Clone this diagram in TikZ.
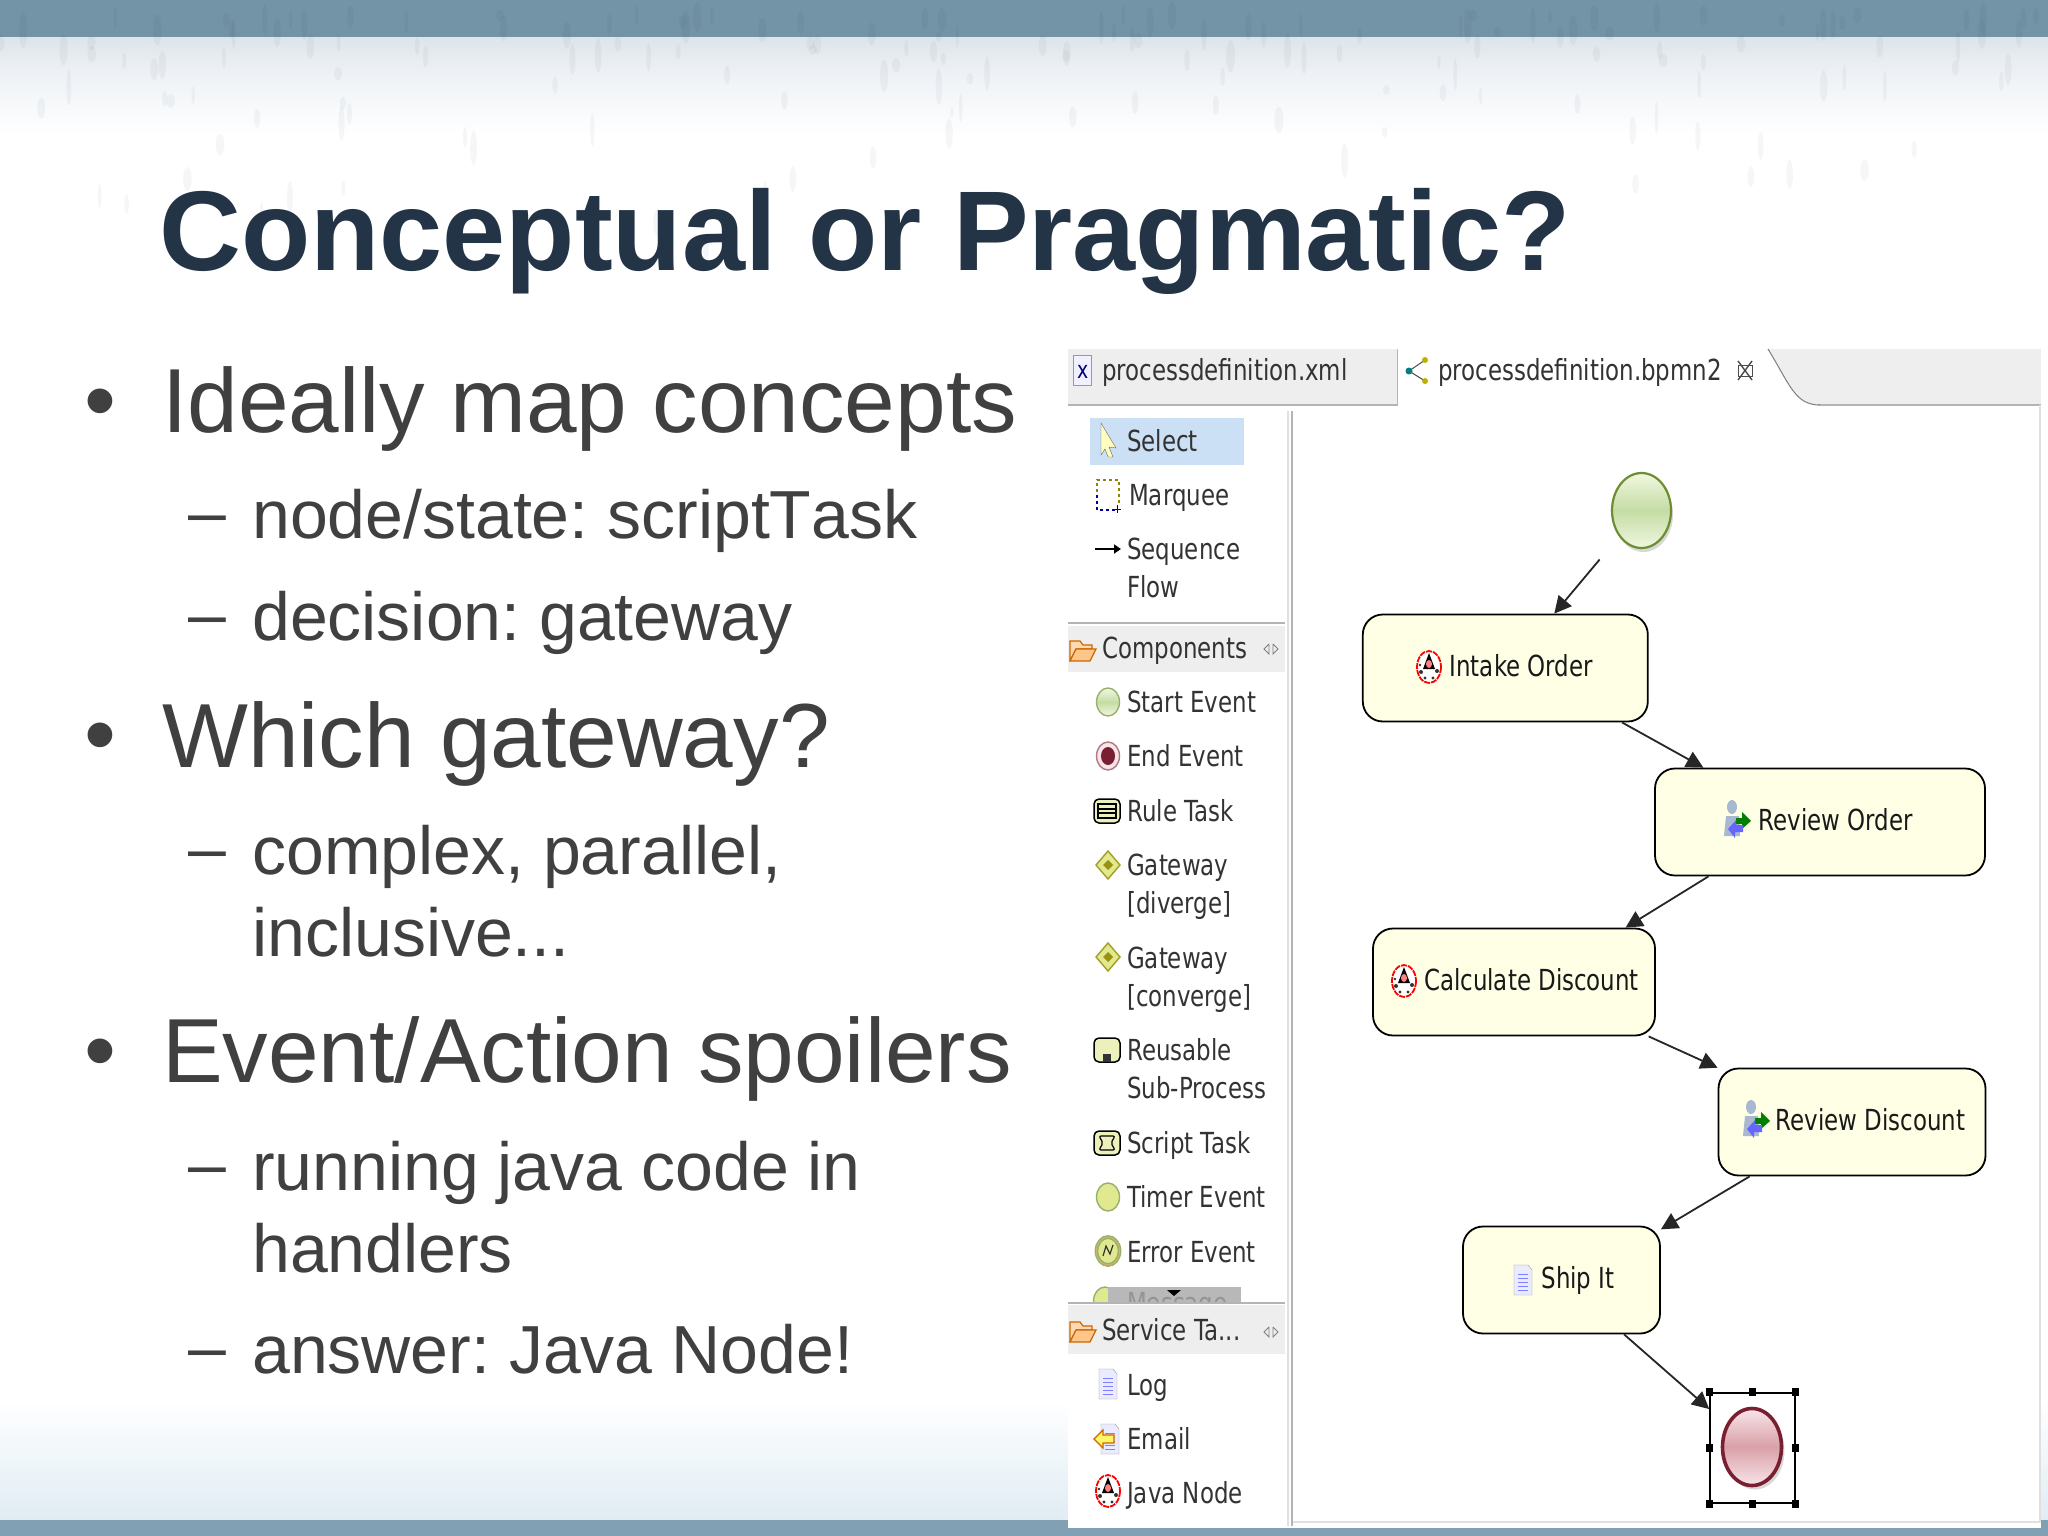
\documentclass[tikz,border=0pt]{standalone}
\usepackage{fontspec}
\setmainfont{Liberation Sans}
\newfontfamily\guifont{DejaVu Sans}[FakeStretch=0.79]
\usetikzlibrary{arrows.meta,shapes.geometric,shadows}
\frenchspacing
\definecolor{slidetext}{HTML}{404040}
\definecolor{slidetitle}{HTML}{243447}
\definecolor{bandtop}{HTML}{7393A6}
\definecolor{bandbottom}{HTML}{82A0B4}
\definecolor{washtop}{HTML}{DDE5E8}
\definecolor{washmid}{HTML}{EEF2F6}
\definecolor{washbottom}{HTML}{E0ECF3}
\definecolor{taskfill}{HTML}{FFFFE6}
\definecolor{tabgrey}{HTML}{EEEEEE}
\definecolor{linegrey}{HTML}{B4B4B4}
\definecolor{selectblue}{HTML}{CCE0F5}
\definecolor{eventgreen}{HTML}{6C8E2F}
\definecolor{greenmid}{HTML}{C5DCA5}
\definecolor{greenend}{HTML}{F0F7E0}
\definecolor{eventred}{HTML}{7A1E32}
\definecolor{redmid}{HTML}{D9A0A8}
\definecolor{redend}{HTML}{F8E5E8}
\definecolor{iconyellow}{HTML}{E0E890}
\definecolor{userbody}{HTML}{A8B8D0}
\newcommand{\tasklabel}[2]{\raisebox{-8.5pt}[0pt][0pt]{\hspace*{#1pt}#2}}
\tikzset{
	slidetitlefont/.style={anchor=base west,inner sep=0pt,text=slidetitle,font=\bfseries\fontsize{113.4}{113.4}\selectfont},
	itemone/.style={anchor=base west,inner sep=0pt,text=slidetext,font=\fontsize{91}{91}\selectfont},
	itemtwo/.style={anchor=base west,inner sep=0pt,text=slidetext,font=\fontsize{68}{68}\selectfont},
	guilabel/.style={anchor=base west,inner sep=0pt,text=black!80,font=\guifont\fontsize{29}{29}\selectfont},
	task/.style={draw=black,line width=1.8pt,fill=taskfill,rounded corners=20pt,minimum height=107pt,inner sep=0pt,text=black!90,font=\guifont\fontsize{29}{29}\selectfont},
	flow/.style={draw=black!85,line width=1.8pt,-{Triangle[length=17pt,width=17pt]}},
	startevent/.style={ellipse,draw=eventgreen,line width=2.2pt,inner sep=0pt,minimum width=59pt,minimum height=75pt,top color=greenend,bottom color=greenend,middle color=greenmid,drop shadow={shadow xshift=2pt,shadow yshift=-4pt,opacity=.3}},
	endevent/.style={ellipse,draw=eventred,line width=3.6pt,inner sep=0pt,minimum width=59pt,minimum height=77pt,top color=redend,bottom color=redend,middle color=redmid,drop shadow={shadow xshift=3pt,shadow yshift=-4pt,opacity=.3}},
	handle/.style={fill=black,inner sep=0pt,minimum width=7pt,minimum height=8pt},
	smallevent/.style={ellipse,draw=eventgreen!70,line width=1.4pt,fill=iconyellow,inner sep=0pt,minimum width=23pt,minimum height=28pt},
	javaicon/.pic={
		\draw [red,line width=1.8pt,fill=white,dash pattern=on 6pt off 1pt] (0,0) ellipse (12 and 16);
		\fill [black] (0,-14) -- (6,2) -- (-6,2) -- cycle;
		\fill [red!50] (0,-3) ellipse (3 and 4);
		\fill [black!80] (-8,5) circle (2) (8,4) circle (2) (-4,11) circle (1.6) (4,11) circle (1.6) (-9,-2) circle (1.4);
	},
	usericon/.pic={
		\fill [userbody] (-4,-13) ellipse (5 and 7);
		\fill [userbody] (-12,16) -- (-10,-4) -- (3,-4) -- (4,16) -- cycle;
		\fill [green!50!black] (0,-2) -- (6,-2) -- (6,-8) -- (15,1) -- (6,9) -- (6,4) -- (0,4) -- cycle;
		\fill [blue!60!white] (7,5) -- (0,5) -- (0,0) -- (-8,9) -- (-1,18) -- (-1,12) -- (7,12) -- cycle;
	},
	docicon/.pic={
		\draw [black!40,fill=blue!8] (-9,-15) -- (5,-15) -- (9,-10) -- (9,15) -- (-9,15) -- cycle;
		\draw [blue!50,line width=1pt] (-5,-6) -- (5,-6) (-5,-2) -- (5,-2) (-5,2) -- (5,2) (-5,6) -- (5,6) (-5,10) -- (5,10);
	},
	foldericon/.pic={
		\draw [orange!80!black,line width=1.2pt,fill=orange!30] (0,23) -- (0,3) -- (10,3) -- (13,7) -- (22,7) -- (22,11) -- (6,11) -- (0,23);
		\draw [orange!80!black,line width=1.2pt,fill=orange!45] (0,23) -- (6,11) -- (26,11) -- (20,23) -- cycle;
	},
	collapseicon/.pic={
		\draw [black!50,line width=.9pt] (-2,-5) -- (-7,0) -- (-2,5) -- (-2,-5) (2,-5) -- (7,0) -- (2,5) -- (2,-5);
	},
	squareicon/.pic={
		\draw [black,line width=1.5pt,fill=iconyellow!60,rounded corners=5pt] (-13,-12) rectangle (13,12);
	},
	gatewayicon/.pic={
		\draw [olive!80,line width=1.4pt,fill=iconyellow] (0,-14) -- (12,0) -- (0,14) -- (-12,0) -- cycle;
		\fill [olive!90] (0,-5) -- (5,0) -- (0,5) -- (-5,0) -- cycle;
	}
}

\begin{document}
\begin{tikzpicture}[x=1pt,y=-1pt]
	\useasboundingbox (0,0) rectangle (2048,1536);
	% background
	\fill [white] (0,0) rectangle (2048,1536);
	\shade [top color=washtop,bottom color=washmid] (0,37) rectangle (2048,75);
	\shade [top color=washmid,bottom color=white] (0,75) rectangle (2048,135);
	\shade [top color=white,bottom color=washbottom] (0,1400) rectangle (2048,1520);
	\fill [bandtop] (0,0) rectangle (2048,37);
	\fill [bandbottom] (0,1520) rectangle (2048,1536);
	\pgfmathsetseed{7}
	\foreach \i in {1,...,170} {
		\pgfmathsetmacro{\gx}{rnd*2040}
		\pgfmathsetmacro{\gy}{15+rnd*rnd*260}
		\pgfmathsetmacro{\ga}{1.5+rnd*3}
		\pgfmathsetmacro{\gb}{5+rnd*13}
		\fill [slidetitle,opacity=.045] (\gx,\gy) ellipse (\ga pt and \gb pt);
	}
	% title and bullets
	\node [slidetitlefont] (title) at (159,270) {Conceptual or Pragmatic?};
	\node [itemone] (bullet1) at (84,431) {•};
	\node [itemone] (ideally) at (162,432) {Ideally map concepts};
	\node [itemtwo] (dash1) at (188,535) {–};
	\node [itemtwo] (nodestate) at (252,538) {node/state: scriptT\kern0pt ask};
	\node [itemtwo] (dash2) at (188,637) {–};
	\node [itemtwo] (decision) at (252,640) {decision: gateway};
	\node [itemone] (bullet2) at (84,765) {•};
	\node [itemone] (which) at (162,767) {Which gateway?};
	\node [itemtwo] (dash3) at (188,871) {–};
	\node [itemtwo] (complex) at (252,874) {complex, parallel,};
	\node [itemtwo] (inclusive) at (252,956) {inclusive...};
	\node [itemone] (bullet3) at (84,1081) {•};
	\node [itemone] (eventaction) at (162,1082) {Event/Action spoilers};
	\node [itemtwo] (dash4) at (188,1187) {–};
	\node [itemtwo] (running) at (252,1190) {running java code in};
	\node [itemtwo] (handlers) at (252,1272) {handlers};
	\node [itemtwo] (dash5) at (188,1370) {–};
	\node [itemtwo] (answer) at (252,1373) {answer: Java Node!};
	% screenshot frame
	\fill [white] (1068,349) rectangle (2041,1528);
	\fill [tabgrey] (1068,349) rectangle (2041,405);
	\draw [linegrey,line width=1.5pt] (1068,405) -- (1398,405) -- (1398,349);
	\draw [linegrey,line width=1.5pt] (1818,405) -- (2041,405);
	\fill [white] (1398,349) -- (1768,349) .. controls (1790,385) and (1795,405) .. (1820,405) -- (1398,406) -- cycle;
	\draw [linegrey!70!black,line width=1pt] (1768,349) .. controls (1790,385) and (1795,405) .. (1820,405);
	\draw [black!12,line width=1.5pt] (2040,405) -- (2040,1522) -- (1292,1522);
	\draw [linegrey,line width=2pt] (1292,411) -- (1292,1526);
	\draw [black!12,line width=2pt] (1288,411) -- (1288,1526);
	% tabs
	\draw [black!40,fill=blue!6] (1073,355) rectangle (1091,385);
	\node [guilabel,text=blue!50!black,font=\guifont\fontsize{24}{24}\selectfont] (xmlmark) at (1077,378) {x};
	\node [guilabel] (tabxml) at (1102,380) {processdefinition.xml};
	\draw [black!70,line width=1pt] (1425,360) -- (1409,371) -- (1425,381);
	\fill [teal] (1409,371) circle (3.5);
	\fill [olive!60!yellow] (1425,360) circle (3) (1425,381) circle (3);
	\node [guilabel] (tabbpmn) at (1438,380) {processdefinition.bpmn2};
	\draw [black!70,line width=1.4pt] (1738,361) -- (1752,380) (1752,361) -- (1738,380);
	\draw [black!70,line width=.8pt] (1738,365) rectangle (1752,376);
	% palette
	\fill [selectblue] (1090,418) rectangle (1244,465);
	\draw [black!60,fill=yellow!25] (1101,423) -- (1116,448) -- (1109,447) -- (1113,457) -- (1108,457) -- (1105,449) -- (1101,455) -- cycle;
	\node [guilabel] (select) at (1127,451) {Select};
	\draw [olive,dashed,line width=1.1pt] (1097,510) -- (1097,480) -- (1119,480) -- (1119,503);
	\draw [blue!60!black,dashed,line width=1.1pt] (1097,495) -- (1097,510) -- (1115,510);
	\draw [blue!60!black,line width=1pt] (1117,505) -- (1117,513) (1113,509) -- (1121,509);
	\node [guilabel] (marquee) at (1129,505) {Marquee};
	\coordinate (seqfrom) at (1095,549);
	\coordinate (seqto) at (1121,549);
	\draw [black,line width=2.4pt,-{Triangle[length=7pt,width=9pt]}] (seqfrom) -- (seqto);
	\node [guilabel] (sequence) at (1127,559) {Sequence};
	\node [guilabel] (seqflow) at (1127,597) {Flow};
	\draw [linegrey,line width=2pt] (1068,623) -- (1285,623);
	\fill [tabgrey] (1068,626) rectangle (1285,672);
	\pic at (1070,638) {foldericon};
	\node [guilabel] (components) at (1102,658) {Components};
	\pic at (1271,649) {collapseicon};
	\node [smallevent,top color=greenend,bottom color=greenend,middle color=greenmid] (palstart) at (1108,702) {};
	\node [guilabel] (startlabel) at (1127,712) {Start Event};
	\node [smallevent,draw=eventred!60,fill=redend] (palend) at (1108,756) {};
	\fill [eventred] (1108,756) ellipse (7 and 9);
	\node [guilabel] (endlabel) at (1127,766) {End Event};
	\pic at (1107,811) {squareicon};
	\draw [black,line width=1.2pt] (1098,804) rectangle (1116,818) (1098,809) -- (1116,809) (1098,813) -- (1116,813);
	\node [guilabel] (rule) at (1127,821) {Rule Task};
	\pic at (1108,865) {gatewayicon};
	\node [guilabel] (gateway1) at (1127,875) {Gateway};
	\node [guilabel] (diverge) at (1127,913) {[diverge]};
	\pic at (1108,957) {gatewayicon};
	\node [guilabel] (gateway2) at (1127,968) {Gateway};
	\node [guilabel] (converge) at (1127,1006) {[converge]};
	\pic at (1107,1050) {squareicon};
	\fill [black!80] (1103,1054) rectangle (1111,1062);
	\node [guilabel] (reusable) at (1127,1060) {Reusable};
	\node [guilabel] (subprocess) at (1127,1098) {Sub-Process};
	\pic at (1107,1143) {squareicon};
	\draw [black,line width=1.2pt,rounded corners=2pt] (1099,1136) -- (1115,1136) -- (1111,1143) -- (1115,1150) -- (1099,1150) -- (1103,1143) -- cycle;
	\node [guilabel] (script) at (1127,1153) {Script Task};
	\node [smallevent] (paltimer) at (1108,1197) {};
	\node [guilabel] (timer) at (1127,1207) {Timer Event};
	\node [smallevent,double=iconyellow!50!brown,double distance=1pt] (palerror) at (1108,1251) {};
	\draw [black!80,line width=1.2pt] (1103,1256) -- (1106,1246) -- (1110,1254) -- (1113,1245);
	\node [guilabel] (error) at (1127,1262) {Error Event};
	\begin{scope}
		\clip (1090,1280) rectangle (1250,1303);
		\node [smallevent] (palmessage) at (1105,1301) {};
		\fill [black!28] (1108,1287) rectangle (1241,1303);
		\node [guilabel,text=black!42] (message) at (1127,1313) {Message};
		\fill [black] (1167,1290) -- (1181,1290) -- (1174,1296) -- cycle;
	\end{scope}
	\draw [linegrey,line width=2pt] (1068,1303) -- (1285,1303);
	\fill [tabgrey] (1068,1305) rectangle (1285,1354);
	\pic at (1070,1319) {foldericon};
	\node [guilabel] (servicetasks) at (1102,1340) {Service Ta...};
	\pic at (1271,1332) {collapseicon};
	\pic at (1108,1384) {docicon};
	\node [guilabel] (loglabel) at (1127,1395) {Log};
	\pic at (1110,1439) {docicon};
	\draw [orange!80!black,fill=yellow!60,line width=1.2pt] (1094,1439) -- (1103,1430) -- (1103,1435) -- (1114,1435) -- (1114,1443) -- (1103,1443) -- (1103,1448) -- cycle;
	\node [guilabel] (email) at (1127,1449) {Email};
	\pic at (1108,1491) {javaicon};
	\node [guilabel] (javanode) at (1127,1503) {Java Node};
	% process nodes
	\node [startevent] (start) at (1641.5,510.5) {};
	\node [task,minimum width=285pt] (intake) at (1505.3,668) {\tasklabel{32}{Intake Order}};
	\node [task,minimum width=330pt] (revieworder) at (1820,822) {\tasklabel{31}{Review Order}};
	\node [task,minimum width=282pt] (calc) at (1514,982) {\tasklabel{35}{Calculate Discount}};
	\node [task,minimum width=267pt] (reviewdiscount) at (1852,1122) {\tasklabel{37}{Review Discount}};
	\node [task,minimum width=197pt] (shipit) at (1561.5,1280) {\tasklabel{33}{Ship It}};
	\node [draw=black,line width=1.6pt,inner sep=0pt,minimum width=85pt,minimum height=110pt] (endbox) at (1752.5,1448) {};
	\node [endevent] (stop) at (1752,1447) {};
	\pic at (1429,667) {javaicon};
	\pic at (1736,820) {usericon};
	\pic at (1404,981) {javaicon};
	\pic at (1755,1120) {usericon};
	\pic at (1523,1280) {docicon};
	% selection handles
	\node [handle] (h1) at (endbox.north west) {};
	\node [handle] (h2) at (endbox.north) {};
	\node [handle] (h3) at (endbox.north east) {};
	\node [handle] (h4) at (endbox.west) {};
	\node [handle] (h5) at (endbox.east) {};
	\node [handle] (h6) at (endbox.south west) {};
	\node [handle] (h7) at (endbox.south) {};
	\node [handle] (h8) at (endbox.south east) {};
	% edges
	\draw [flow,shorten <=30pt] (start.229) to (intake.48.5);
	\draw [flow] (intake.335.4) to (revieworder.155.1);
	\draw [flow] (revieworder.206.8) to (calc.26.7);
	\draw [flow] (calc.338.3) to (reviewdiscount.158.4);
	\draw [flow] (reviewdiscount.208.5) to (shipit.27.6);
	\draw [flow] (shipit.319) to (endbox.138.3);
\end{tikzpicture}
\end{document}
